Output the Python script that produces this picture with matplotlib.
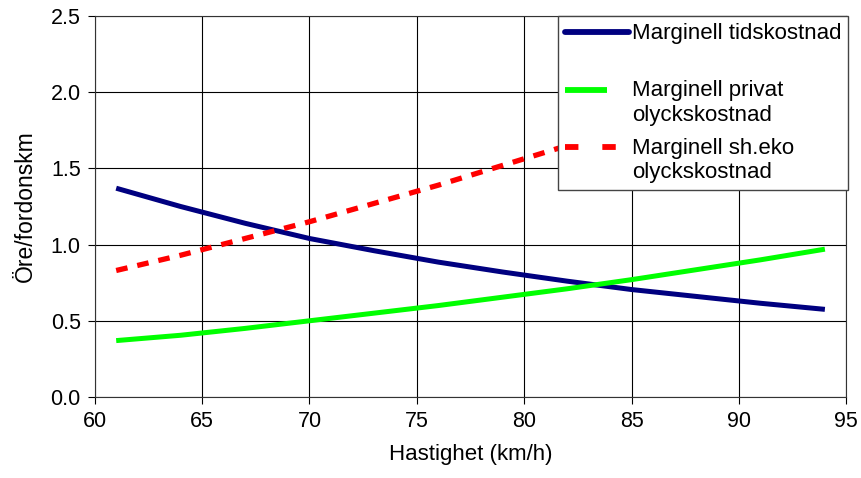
import matplotlib.pyplot as plt
import numpy as np
from matplotlib.lines import Line2D
from matplotlib.legend_handler import HandlerLine2D

plt.rcParams['font.family'] = ['Liberation Sans', 'DejaVu Sans']

# hastighet (km/h)
speed = [61, 64, 67, 70, 73, 76, 79, 82, 85, 88, 91, 94]
# öre/fordonskm
tidskostnad = [1.37, 1.25, 1.14, 1.04, 0.96, 0.885, 0.82, 0.76, 0.705, 0.66, 0.615, 0.575]
privat_olycks = [0.37, 0.405, 0.45, 0.50, 0.55, 0.60, 0.655, 0.71, 0.77, 0.835, 0.90, 0.97]
sheko_olycks = [0.83, 0.93, 1.04, 1.15, 1.27, 1.39, 1.52, 1.65, 1.79, 1.94, 2.09, 2.25]

labels = ['Marginell tidskostnad\n', 'Marginell privat\nolyckskostnad',
          'Marginell sh.eko\nolyckskostnad']


class FirstLineHandler(HandlerLine2D):
    # puts the legend line level with the first text line, like excel does
    def __init__(self, xfrac=1.0, **kw):
        super().__init__(**kw)
        self.xfrac = xfrac

    def create_artists(self, legend, orig_handle, xdescent, ydescent,
                       width, height, fontsize, trans):
        arts = super().create_artists(legend, orig_handle, xdescent, ydescent,
                                      width, height, fontsize, trans)
        for a in arts:
            x = np.asarray(a.get_xdata(), dtype=float)
            y = np.asarray(a.get_ydata(), dtype=float)
            a.set_xdata(x[0] + (x - x[0]) * self.xfrac)
            a.set_ydata(y + 0.6 * fontsize)
        return arts


fig = plt.figure(figsize=(8.61, 4.78), dpi=100)
ax = fig.add_axes([0.110, 0.1695, 0.873, 0.797])

ax.plot(speed, tidskostnad, color='#000080', lw=3.6, solid_capstyle='butt')
ax.plot(speed, privat_olycks, color='#00FF00', lw=3.6, solid_capstyle='butt')
ax.plot(speed, sheko_olycks, color='#FF0000', lw=3.8, linestyle=(0, (2.2, 1.9)),
        dash_capstyle='butt')

ax.set_xlim(60, 95)
ax.set_ylim(0, 2.5)
ax.set_xticks(np.arange(60, 96, 5))
ax.set_yticks(np.arange(0, 2.51, 0.5))
ax.yaxis.set_major_formatter(plt.FormatStrFormatter('%.1f'))
ax.grid(True, color='black', lw=0.8)
ax.set_axisbelow(True)
ax.tick_params(direction='out', length=5, width=0.8, labelsize=15.5, pad=5)
for s in ax.spines.values():
    s.set_color('#333333')
    s.set_linewidth(0.8)

ax.set_xlabel('Hastighet (km/h)', fontsize=16, labelpad=9)
ax.set_ylabel('Öre/fordonskm', fontsize=16.5, labelpad=10)

h_blue = Line2D([], [], color='#000080', lw=4.2, solid_capstyle='round')
h_green = Line2D([], [], color='#00FF00', lw=4.2, solid_capstyle='butt')
h_red = Line2D([], [], color='#FF0000', lw=4.2, linestyle=(0, (2.3, 4.1)),
               dash_capstyle='butt')

leg = fig.legend([h_blue, h_green, h_red], labels, loc='upper left',
                 bbox_to_anchor=(558 / 861, 1 - 16 / 478),
                 fontsize=16, frameon=True, fancybox=False, borderaxespad=0,
                 handlelength=2.9, handletextpad=0.12, labelspacing=0.56,
                 borderpad=0.3,
                 handler_map={h_blue: FirstLineHandler(1.0),
                              h_green: FirstLineHandler(0.66),
                              h_red: FirstLineHandler(1.0)})
leg.get_frame().set_edgecolor('#444444')
leg.get_frame().set_linewidth(1.0)
leg.get_frame().set_alpha(1)

plt.savefig('out.png', dpi=100)
